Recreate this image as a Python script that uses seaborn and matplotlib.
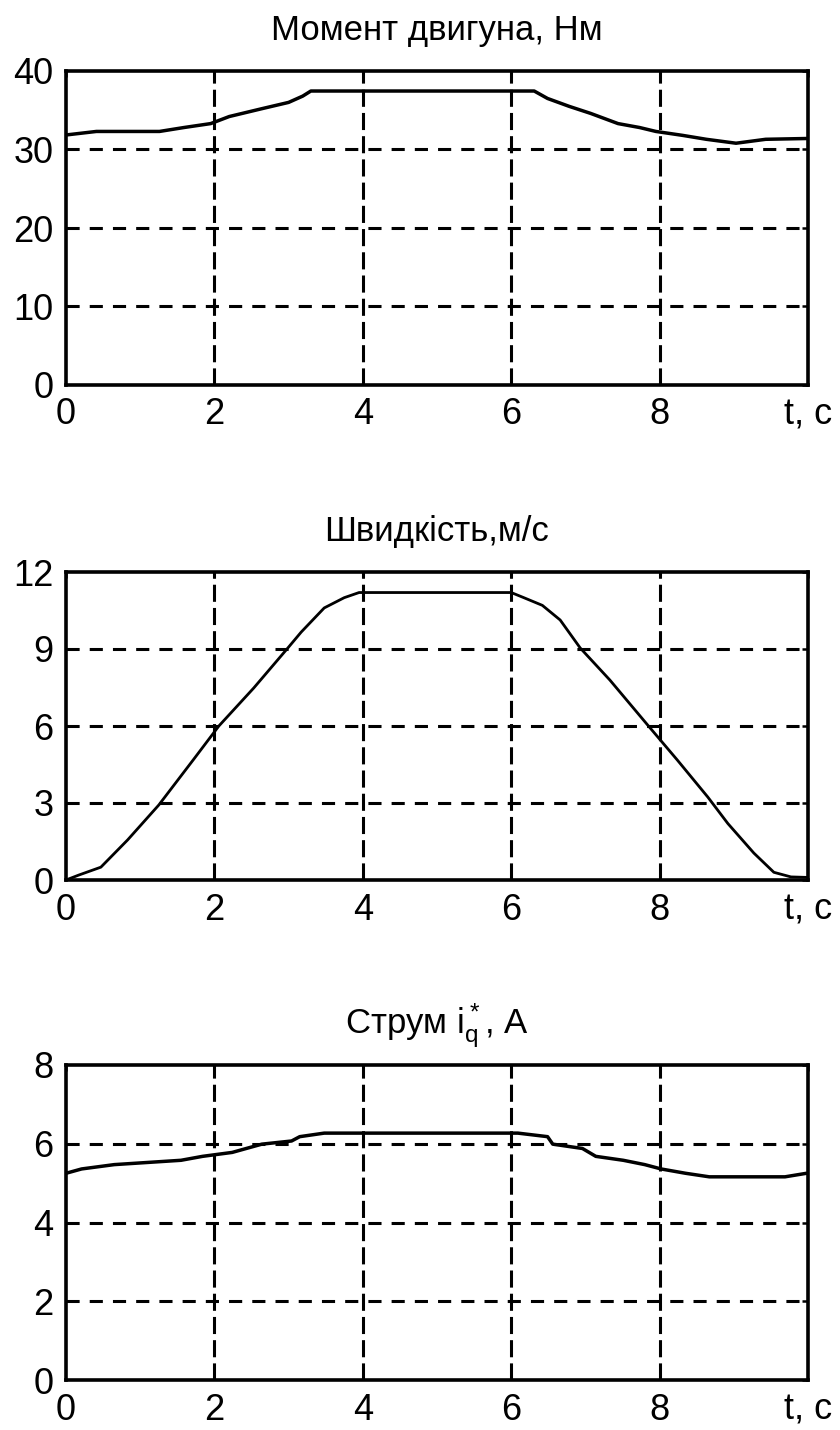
import matplotlib
matplotlib.use("Agg")
import matplotlib.pyplot as plt
import seaborn as sns
import pandas as pd

# ---- data ----
t_torque = [0.0, 0.41, 1.26, 1.59, 1.95, 2.2, 2.64, 3.0, 3.19, 3.3, 6.31, 6.49, 6.78,
            7.07, 7.44, 7.73, 7.95, 8.31, 8.63, 9.03, 9.43, 9.98]
torque = [31.85, 32.3, 32.3, 32.8, 33.3, 34.2, 35.2, 36.0, 36.8, 37.45, 37.45, 36.5, 35.5,
          34.6, 33.3, 32.8, 32.3, 31.8, 31.3, 30.8, 31.3, 31.4]

t_speed = [0.0, 0.17, 0.47, 0.83, 1.25, 1.72, 2.06, 2.53, 2.99, 3.17, 3.48, 3.75,
           3.95, 6.0, 6.17, 6.42, 6.66, 6.93, 7.33, 7.85, 8.24, 8.65, 8.92, 9.27,
           9.54, 9.77, 10.0]
speed = [0.0, 0.19, 0.5, 1.56, 2.92, 4.7, 6.0, 7.48, 9.04, 9.66, 10.6, 11.0,
         11.2, 11.2, 11.0, 10.7, 10.13, 9.04, 7.79, 6.0, 4.67, 3.23, 2.2, 1.05,
         0.3, 0.12, 0.1]

t_current = [0.0, 0.21, 0.65, 1.55, 1.84, 2.24, 2.43, 2.64, 3.04, 3.15, 3.48, 6.09, 6.49,
             6.56, 6.96, 7.14, 7.51, 7.8, 8.02, 8.35, 8.67, 9.69, 9.98]
current = [5.25, 5.36, 5.47, 5.58, 5.68, 5.78, 5.88, 5.99, 6.07, 6.18, 6.27, 6.27, 6.18,
           5.99, 5.88, 5.68, 5.58, 5.47, 5.36, 5.25, 5.16, 5.16, 5.25]

titles = ["Момент двигуна, Нм", "Швидкість,м/с", r"Струм $i_q^*$, A"]
x_ticks = [0, 2, 4, 6, 8, 10]
x_ticklabels = ["0", "2", "4", "6", "8", "t, c"]
y_ticks_torque = [0, 10, 20, 30, 40]
y_ticks_speed = [0, 3, 6, 9, 12]
y_ticks_current = [0, 2, 4, 6, 8]

# ---- style ----
sns.set_style("white")
plt.rcParams['font.family'] = ['Liberation Sans', 'DejaVu Sans']
plt.rcParams['mathtext.default'] = 'regular'

fig = plt.figure(figsize=(8.4, 14.3), dpi=100)
W, H = 840, 1430
boxes = [(66, 71, 808, 385), (66, 572, 808, 880), (66, 1065, 808, 1380)]

series = [(t_torque, torque, y_ticks_torque, 2.5),
          (t_speed, speed, y_ticks_speed, 2.0),
          (t_current, current, y_ticks_current, 2.5)]

FS = 26
for (l, tp, r, b), (tx, ty, yt, lw), title in zip(boxes, series, titles):
    ax = fig.add_axes([l / W, 1 - b / H, (r - l) / W, (b - tp) / H])
    df = pd.DataFrame({"t": tx, "v": ty})
    sns.lineplot(data=df, x="t", y="v", ax=ax, color="black", linewidth=lw, zorder=3)
    ax.set_xlim(0, 10)
    ax.set_ylim(yt[0], yt[-1])
    ax.set_xticks(x_ticks)
    ax.set_xticklabels(x_ticklabels)
    ax.set_yticks(yt)
    ax.set_yticklabels([str(v) for v in yt])
    ax.set_xlabel("")
    ax.set_ylabel("")
    ax.grid(False)
    for xv in x_ticks[1:-1]:
        ax.axvline(xv, color="black", linewidth=2.2, linestyle=(0, (5.6, 2.0)), zorder=1)
    for yv in yt[1:-1]:
        ax.axhline(yv, color="black", linewidth=2.2, linestyle=(0, (4.3, 3.3)), zorder=1)
    for s in ax.spines.values():
        s.set_visible(True)
        s.set_color("black")
        s.set_linewidth(2.6)
    ax.tick_params(axis="both", direction="in", length=4, width=1.8, colors="black",
                   labelsize=FS, top=True, right=True)
    ax.tick_params(axis="x", pad=9)
    ax.tick_params(axis="y", pad=9)
    ax.set_title(title, fontsize=FS - 1, pad=22, color="black")

fig.savefig("out.png", dpi=100, facecolor="white")
